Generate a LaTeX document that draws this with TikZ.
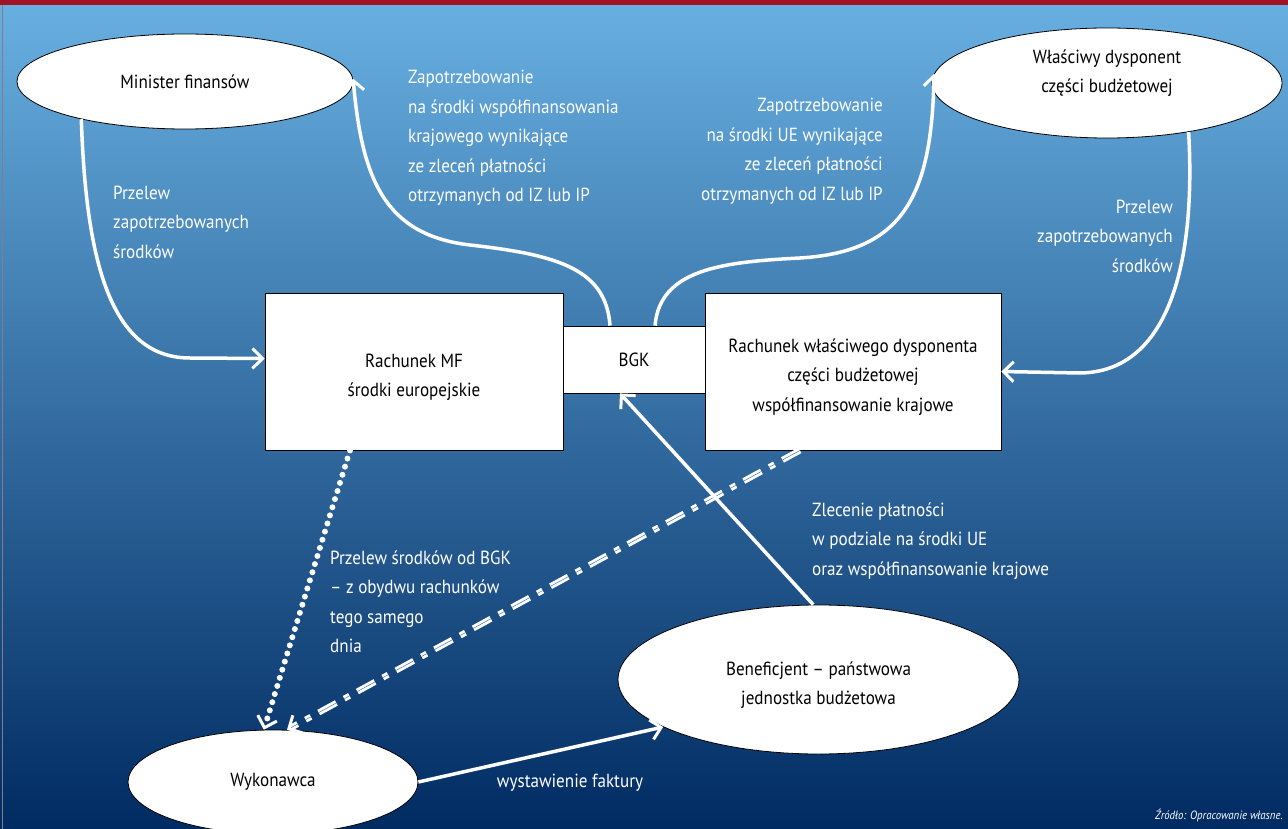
\documentclass[tikz,border=0pt]{standalone}
\usepackage{fontspec}
\setmainfont{PT Sans}[FakeStretch=0.9]
\usetikzlibrary{arrows.meta,shapes.geometric,positioning}
\definecolor{bgtop}{RGB}{104,175,225}
\definecolor{bgbot}{RGB}{0,43,98}
\definecolor{stripred}{RGB}{160,18,36}
\definecolor{lineblue}{RGB}{70,120,180}
\newcommand{\lowstrut}{\rule{0pt}{25pt}}

\begin{document}
\begin{tikzpicture}[
    x=1pt, y=-1pt,
    font=\fontsize{19}{29.5}\selectfont,
    oval/.style={ellipse, draw=black, fill=white, thick, inner sep=0, align=center},
    account/.style={rectangle, draw=black, fill=white, thick, inner sep=0, align=center},
    note/.style={text=white, inner sep=0},
    tip/.style={-{Straight Barb[length=10pt, width=20pt, line width=3pt]}},
    flow/.style={tip, draw=white, line width=3.5pt},
    dotflow/.style={tip, draw=white, line width=6pt, line cap=round, dash pattern=on 0pt off 8.5pt},
    dashflow/.style={tip, draw=white, line width=2.8pt, double=lineblue, double distance=0.5pt,
        dash pattern=on 20pt off 9pt on 6pt off 9pt}]
\useasboundingbox (0,0) rectangle (1288,829);
\shade[top color=bgtop, bottom color=bgbot] (0,5) rectangle (1288,829);
\fill[stripred] (0,0) rectangle (1288,5);
\draw[gray, thin] (2,5) -- (2,829);

% nodes
\node[oval, minimum width=336pt, minimum height=95pt] (minister) at (185,81.5) {Minister finansów};
\node[oval, minimum width=350pt, minimum height=110pt] (wlasciwy) at (1107,83) {};
\node[align=center, inner sep=0] (wlasciwyTxt) at (1107,73) {Właściwy dysponent\\części budżetowej};
\node[account, minimum width=298pt, minimum height=157pt] (mf) at (414,371.5) {\lowstrut Rachunek MF\\środki europejskie};
\node[account, minimum width=142pt, minimum height=67pt] (bgk) at (634,359.5) {BGK};
\node[account, minimum width=296pt, minimum height=157pt] (dysp) at (853,371.5) {\lowstrut Rachunek właściwego dysponenta\\części budżetowej\\współfinansowanie krajowe};
\node[oval, minimum width=401pt, minimum height=149pt] (benef) at (818.5,679.5) {\lowstrut Beneficjent – państwowa\\jednostka budżetowa};
\node[oval, minimum width=290pt, minimum height=104pt] (wyk) at (273,782) {Wykonawca};

% labels
\node[note, anchor=west, align=left] (przelewL) at (113,222) {Przelew\\zapotrzebowanych\\środków};
\node[note, anchor=west, align=left] (zapotrzKraj) at (408,138) {Zapotrzebowanie\\na środki współfinansowania\\krajowego wynikające\\ze zleceń płatności\\otrzymanych od IZ lub IP};
\node[note, anchor=east, align=right] (zapotrzUE) at (883,151) {Zapotrzebowanie\\na środki UE wynikające\\ze zleceń płatności\\otrzymanych od IZ lub IP};
\node[note, anchor=east, align=right] (przelewR) at (1173,236) {Przelew\\zapotrzebowanych\\środków};
\node[note, anchor=west, align=left] (przelewBGK) at (330,602) {Przelew środków od BGK\\– z obydwu rachunków\\tego samego\\dnia};
\node[note, anchor=west, align=left] (zlecenie) at (812,541) {Zlecenie płatności\\w podziale na środki UE\\oraz współfinansowanie krajowe};
\node[note] (faktura) at (570,783) {wystawienie faktury};
\node[note, anchor=east, font=\fontsize{12}{14}\selectfont\itshape] (zrodlo) at (1283,815) {Źródło: Opracowanie własne.};

% connectors
\draw[flow] (minister.200) .. controls (86,260) and (110,358) .. (190,358) -- ([yshift=13pt]mf.west);
\draw[flow] ([xshift=-24pt]bgk.north) .. controls (606,270) and (560,255) .. (470,245)
    .. controls (385,235) and (362,180) .. (minister.1);
\draw[flow] ([xshift=21pt]bgk.north) .. controls (660,270) and (720,262) .. (800,258)
    .. controls (900,252) and (932,200) .. (wlasciwy.177);
\draw[flow] (wlasciwy.329) .. controls (1196,260) and (1170,372) .. (1080,373) -- (dysp.east);
\draw[dotflow] ([xshift=-64pt]mf.south) -- (wyk.100);
\draw[dashflow] ([xshift=-53pt]dysp.south) -- (wyk.75);
\draw[flow] (benef.94) -- ([xshift=-14pt]bgk.south);
\draw[flow] (wyk.east) -- (benef.197);

\end{tikzpicture}
\end{document}
